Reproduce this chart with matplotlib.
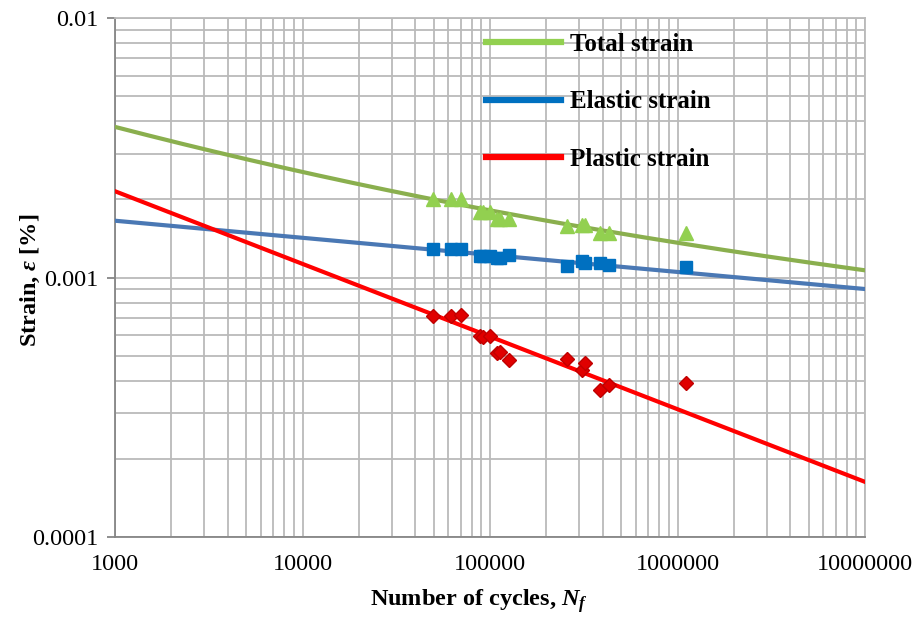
import numpy as np
import matplotlib
matplotlib.use("Agg")
import matplotlib.pyplot as plt
from matplotlib.lines import Line2D
from matplotlib.ticker import FixedLocator, FixedFormatter, LogLocator, NullFormatter

plt.rcParams['font.family'] = ['Liberation Serif', 'DejaVu Serif']
plt.rcParams['mathtext.fontset'] = 'custom'
plt.rcParams['mathtext.rm'] = 'Liberation Serif'
plt.rcParams['mathtext.it'] = 'Liberation Serif:italic:bold'
plt.rcParams['mathtext.bf'] = 'Liberation Serif:bold'

# ---- data ----
cycles = [49500, 62000, 70000, 88500, 92000, 100000, 109000, 113000, 126000,
          258000, 310000, 322000, 386000, 431000, 1110000]
total_strain = [0.00200, 0.00200, 0.00200, 0.00179, 0.00179, 0.00179, 0.00168, 0.00168, 0.00168,
                0.00158, 0.00159, 0.00159, 0.00148, 0.00148, 0.00149]
elastic_strain = [0.00129, 0.00129, 0.00129, 0.00121, 0.00121, 0.00121, 0.00119, 0.00119, 0.00122,
                  0.00111, 0.00116, 0.00114, 0.00114, 0.00112, 0.00110]
plastic_strain = [0.000710, 0.000710, 0.000715, 0.000595, 0.000590, 0.000595, 0.000512, 0.000515, 0.000480,
                  0.000485, 0.000440, 0.000469, 0.000368, 0.000385, 0.000392]

# fitted power laws  eps = coef * (N/1000)^exp
elastic_coef, elastic_exp = 0.001655, -0.0658
plastic_coef, plastic_exp = 0.00215, -0.280

x_ticks = [1000, 10000, 100000, 1000000, 10000000]
x_tick_labels = ["1000", "10000", "100000", "1000000", "10000000"]
y_ticks = [0.0001, 0.001, 0.01]
y_tick_labels = ["0.0001", "0.001", "0.01"]

legend_labels = ["Total strain", "Elastic strain", "Plastic strain"]

# ---- figure ----
fig = plt.figure(figsize=(9.16, 6.17), dpi=100)
ax = fig.add_axes([115/916, 1-537/617, 750/916, 519/617])

ax.set_xscale('log')
ax.set_yscale('log')
ax.set_xlim(1000, 10000000)
ax.set_ylim(0.0001, 0.01)

grid_c = '#BABABA'
ax.xaxis.set_major_locator(FixedLocator(x_ticks))
ax.xaxis.set_major_formatter(FixedFormatter(x_tick_labels))
ax.yaxis.set_major_locator(FixedLocator(y_ticks))
ax.yaxis.set_major_formatter(FixedFormatter(y_tick_labels))
ax.xaxis.set_minor_locator(LogLocator(base=10, subs=np.arange(2, 10)))
ax.yaxis.set_minor_locator(LogLocator(base=10, subs=np.arange(2, 10)))
ax.xaxis.set_minor_formatter(NullFormatter())
ax.yaxis.set_minor_formatter(NullFormatter())
ax.grid(True, which='both', color=grid_c, linewidth=1.3)
ax.set_axisbelow(True)

for s in ['top', 'right']:
    ax.spines[s].set_color(grid_c)
    ax.spines[s].set_linewidth(1.3)
for s in ['left', 'bottom']:
    ax.spines[s].set_color('#868686')
    ax.spines[s].set_linewidth(1.3)

ax.tick_params(axis='y', which='major', length=6, width=1.3, color='#868686',
               labelsize=17.5, pad=6)
ax.tick_params(axis='x', which='major', length=0, labelsize=17.5, pad=12)
ax.tick_params(which='minor', length=0)

# fit lines
N_line = np.logspace(3, 7, 200)
el_line = elastic_coef * (N_line / 1000.0) ** elastic_exp
pl_line = plastic_coef * (N_line / 1000.0) ** plastic_exp
tot_line = el_line + pl_line

ax.plot(N_line, tot_line, color='#8AAF4E', lw=3.0, zorder=3)
ax.plot(N_line, el_line, color='#4A78B4', lw=3.0, zorder=3)
ax.plot(N_line, pl_line, color='#FF0000', lw=3.0, zorder=3)

ax.plot(cycles, total_strain, linestyle='none', marker='^', ms=10,
        color='#92D050', mec='#92D050', zorder=4)
ax.plot(cycles, elastic_strain, linestyle='none', marker='s', ms=8,
        color='#0070C0', mec='#0070C0', zorder=4)
ax.plot(cycles, plastic_strain, linestyle='none', marker='D', ms=7.5,
        color='#E00000', mec='#C00000', zorder=4)

handles = [Line2D([], [], color='#92D050', lw=4.5),
           Line2D([], [], color='#0070C0', lw=4.5),
           Line2D([], [], color='#FF0000', lw=4.5)]
leg = ax.legend(handles, legend_labels, loc='upper left',
                bbox_to_anchor=(486/916, 1-33/617), bbox_transform=fig.transFigure,
                frameon=False, borderpad=0, borderaxespad=0,
                handlelength=3.0, handletextpad=0.35, labelspacing=1.38,
                prop={'family': 'Liberation Serif', 'weight': 'bold', 'size': 18})

fig.text(479/916, 1-601/617, r"Number of cycles, $N_f$", fontsize=17.5,
         fontweight='bold', ha='center', va='center')
fig.text(30/916, 1-280/617, r"Strain, $\varepsilon$ [%]", fontsize=17.5,
         fontweight='bold', ha='center', va='center', rotation=90)

fig.savefig("out.png", dpi=100)
